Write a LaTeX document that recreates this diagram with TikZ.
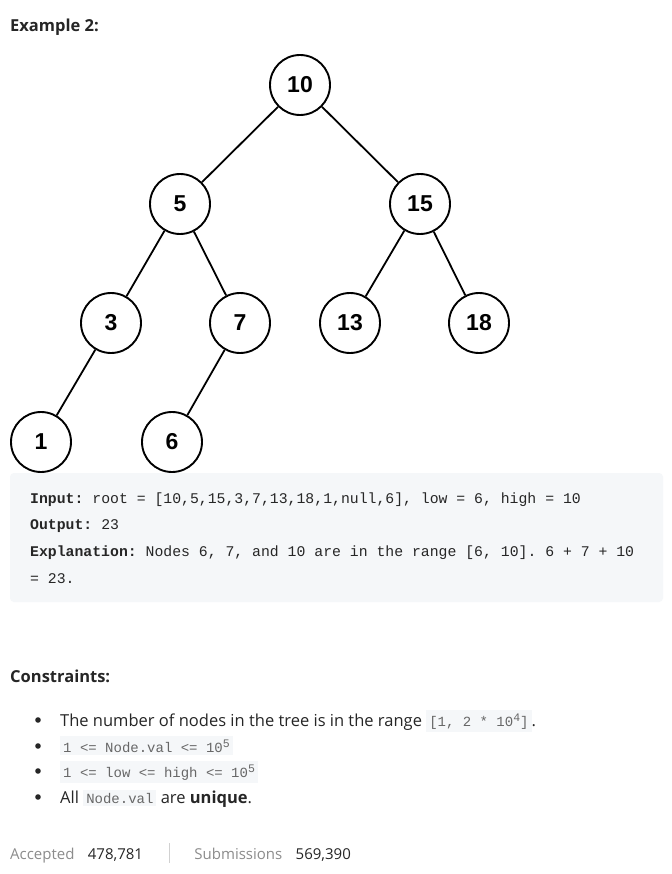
\documentclass[tikz,border=0pt]{standalone}
\usepackage{fontspec}
\setmainfont{Open Sans}
\setmonofont{Liberation Mono}
\newfontfamily\nodefont{Liberation Sans}
\usetikzlibrary{positioning}
\definecolor{codebg}{RGB}{245,247,249}
\definecolor{textdark}{RGB}{38,38,38}
\definecolor{textgray}{RGB}{140,140,140}
\newcommand{\inlinecode}[1]{{\setlength{\fboxsep}{3pt}\colorbox{codebg}{\fontsize{14}{14}\ttfamily\color{textdark!70}#1}}}
\newcommand{\expo}[1]{\raisebox{5pt}{\fontsize{11.5}{11.5}\selectfont #1}}

\begin{document}
\begin{tikzpicture}[x=1pt,y=-1pt,
  treenode/.style={draw, circle, line width=1.9pt, minimum size=60pt, inner sep=0pt, font=\nodefont\bfseries\fontsize{23}{23}\selectfont},
  edge/.style={line width=1.8pt},
  heading/.style={anchor=base west, inner sep=0pt, text=textdark, font=\bfseries\fontsize{16.5}{16.5}\selectfont},
  codeline/.style={anchor=base west, inner sep=0pt, text=textdark, font=\ttfamily\fontsize{14.8}{14.8}\selectfont},
  item/.style={anchor=base west, inner sep=0pt, text=textdark, font=\fontsize{16.5}{16.5}\selectfont},
  footer/.style={anchor=base west, inner sep=0pt, font=\fontsize{15}{15}\selectfont}]
\useasboundingbox[fill=white] (0,0) rectangle (671,874);

\node[heading] (title) at (10,32) {Example 2:};

% tree
\begin{scope}[every node/.style={treenode}]
  \node (n10) at (300,85) {10};
  \node (n5) at (180,204) {5};
  \node (n15) at (420,204) {15};
  \node (n3) at (111,323) {3};
  \node (n7) at (240,323) {7};
  \node (n13) at (350,323) {13};
  \node (n18) at (479,323) {18};
  \node (n1) at (41,442) {1};
  \node (n6) at (172,442) {6};
\end{scope}
\draw [edge] (n10) -- (n5);
\draw [edge] (n10) -- (n15);
\draw [edge] (n5) -- (n3);
\draw [edge] (n5) -- (n7);
\draw [edge] (n15) -- (n13);
\draw [edge] (n15) -- (n18);
\draw [edge] (n3) -- (n1);
\draw [edge] (n7) -- (n6);

% example box
\fill[codebg, rounded corners=4pt] (10,473) rectangle (663,602);
\node[codeline] (input) at (30,503) {\textbf{Input:} root = [10,5,15,3,7,13,18,1,null,6], low = 6, high = 10};
\node[codeline] (output) at (30,529) {\textbf{Output:} 23};
\node[codeline] (expl) at (30,556) {\textbf{Explanation:} Nodes 6, 7, and 10 are in the range [6, 10]. 6 + 7 + 10};
\node[codeline] (expl2) at (30,583) {= 23.};

% constraints
\node[heading] (cons) at (10,682) {Constraints:};
\foreach \y in {720,746,771,797}
  \fill[textdark] (38,\y) circle (2.8pt);
\node[item] (c1) at (60,726) {The number of nodes in the tree is in the range \inlinecode{[1, 2 * 10\expo{4}]}.};
\node[item] (c2) at (60,752) {\inlinecode{1 <= Node.val <= 10\expo{5}}};
\node[item] (c3) at (60,777) {\inlinecode{1 <= low <= high <= 10\expo{5}}};
\node[item] (c4) at (60,803) {All \inlinecode{Node.val} are \textbf{unique}.};

% footer
\node[footer, text=textgray] (acc) at (10,859) {Accepted};
\node[footer, text=textdark, right=13pt of acc.base east, anchor=base west] (accn) {478,781};
\node[footer, text=textgray, right=51pt of accn.base east, anchor=base west] (sub) {Submissions};
\node[footer, text=textdark, right=13pt of sub.base east, anchor=base west] (subn) {569,390};
\draw[textgray!40, line width=1pt] ([xshift=26pt]accn.base east) ++(0,-16) -- ++(0,20);
\end{tikzpicture}
\end{document}
